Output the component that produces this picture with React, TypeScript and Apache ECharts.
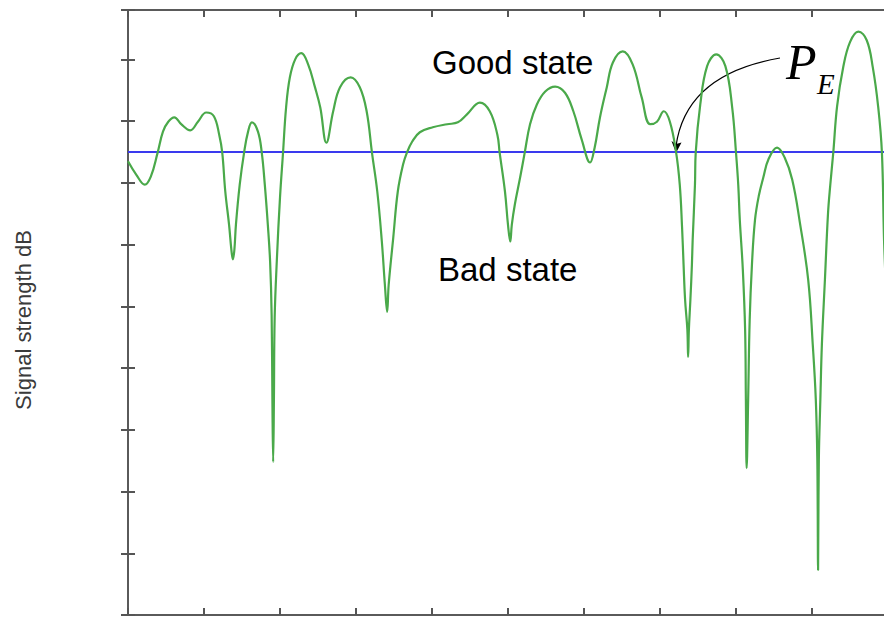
import React, { useEffect, useRef } from "react";
import * as echarts from "echarts";

// Time samples (arbitrary units, 0..100) and the faded signal level in dB
const timeAxis = [
  0, 1.1, 2.2, 3.0, 3.9, 4.6, 5.3, 6.1, 7.0, 8.2, 9.2, 10.3, 11.3, 12.0, 12.4,
  12.8, 13.3, 13.6, 13.8, 14.0, 14.2, 14.7, 15.3, 15.8, 16.3, 17.1, 17.6, 18.0,
  18.4, 18.7, 18.9, 19.0, 19.1, 19.2, 19.3, 19.6, 20.0, 20.4, 20.8, 21.3, 22.0,
  22.8, 23.7, 24.6, 25.3, 26.1, 27.0, 27.9, 29.3, 30.5, 31.4, 32.1, 32.8, 33.4,
  33.8, 34.1, 34.3, 34.9, 35.5, 36.2, 36.7, 37.4, 38.4, 40.1, 42.0, 43.4, 44.6,
  46.3, 47.6, 48.6, 48.9, 49.6, 50.0, 50.3, 50.5, 50.9, 51.6, 52.2, 52.9, 53.8,
  54.9, 56.2, 57.5, 58.6, 59.7, 60.8, 61.4, 62.1, 63.0, 63.8, 65.1, 66.4, 67.6,
  68.7, 69.6, 70.5, 71.3, 72.1, 72.6, 72.9, 73.1, 73.3, 73.6, 73.7, 73.8, 74.0,
  74.2, 74.3, 74.6, 74.7, 75.3, 76.2, 77.4, 78.6, 79.5, 80.0, 80.3, 80.5, 80.9,
  81.2, 81.3, 81.4, 81.6, 81.8, 82.1, 82.5, 83.0, 83.6, 84.3, 85.4, 86.4, 87.4,
  88.4, 89.5, 90.1, 90.5, 90.7, 90.8, 90.9, 91.1, 91.3, 91.7, 92.1, 92.4, 92.8,
  93.3, 94.1, 95.0, 96.1, 97.2, 98.0, 98.7, 99.2, 99.5, 100,
];

const signalDb = [
  -26.5, -28.7, -30.3, -29.0, -25.1, -21.7, -20.1, -19.4, -20.5, -21.5, -20.1,
  -18.6, -19.2, -22.2, -25.1, -31.4, -36.8, -40.8, -42.4, -40.8, -36.8, -30.3,
  -24.9, -21.7, -20.2, -21.7, -25.1, -30.3, -36.8, -42.8, -51.4, -65.1, -75.2,
  -65.1, -51.8, -42.1, -32.4, -25.1, -17.8, -12.9, -10.0, -9.0, -10.8, -14.5,
  -17.8, -23.5, -18.4, -14.5, -12.9, -14.5, -18.4, -25.1, -31.4, -39.5, -46.5,
  -50.9, -46.5, -38.9, -31.4, -27.0, -25.1, -23.3, -21.8, -21.0, -20.5, -20.2,
  -18.9, -17.0, -18.4, -22.2, -25.1, -31.4, -36.8, -39.5, -36.8, -33.5, -29.1,
  -25.1, -20.5, -17.3, -15.2, -14.4, -15.4, -18.4, -23.0, -26.7, -24.3, -19.4,
  -14.5, -10.5, -8.7, -10.8, -16.2, -20.5, -20.1, -18.4, -20.1, -24.9, -30.3,
  -37.1, -43.2, -48.9, -53.8, -58.2, -53.8, -48.9, -43.2, -39.2, -30.3, -25.1,
  -17.3, -11.1, -9.2, -11.1, -17.8, -25.1, -30.4, -36.0, -44.1, -53.8, -65.1,
  -76.2, -65.1, -52.2, -43.2, -36.0, -32.1, -29.1, -26.1, -24.3, -25.9, -29.5,
  -36.4, -45.7, -56.2, -65.1, -74.9, -92.7, -74.9, -65.1, -56.2, -45.7, -35.1,
  -30.4, -25.1, -17.6, -11.3, -7.2, -5.5, -6.9, -11.3, -17.6, -25.1, -40.0,
  -53.8,
];

// Threshold separating the good and bad channel states
const thresholdDb = -25;

const xRange = [0, 100];
const xStep = 10;
const yRange = [-100, -2];
const yStep = 10;

export default function App() {
  const ref = useRef<HTMLDivElement>(null);

  useEffect(() => {
    if (!ref.current) return;
    const chart = echarts.init(ref.current, null, { renderer: "svg" });

    const fading = timeAxis.map((t, i) => [t, signalDb[i]]);
    const threshold = [
      [xRange[0], thresholdDb],
      [xRange[1], thresholdDb],
    ];

    const frameLine = { show: true, lineStyle: { color: "#5a5a5a", width: 2 } };
    const frameTick = {
      show: true,
      inside: true,
      length: 7,
      lineStyle: { color: "#555", width: 2 },
    };
    const xBase = {
      type: "value",
      min: xRange[0],
      max: xRange[1],
      interval: xStep,
      axisLine: frameLine,
      axisTick: frameTick,
      axisLabel: { show: false },
      splitLine: { show: false },
    };
    const yBase = {
      type: "value",
      min: yRange[0],
      max: yRange[1],
      interval: yStep,
      axisLine: frameLine,
      axisTick: frameTick,
      axisLabel: { show: false },
      splitLine: { show: false },
    };

    chart.setOption({
      animation: false,
      backgroundColor: "#ffffff",
      grid: {
        left: 128,
        top: 10,
        width: 760,
        height: 605,
        outerBoundsMode: "none",
      },
      xAxis: [
        { ...xBase, position: "bottom" },
        { ...xBase, position: "top" },
      ],
      yAxis: [
        { ...yBase, position: "left" },
        { ...yBase, position: "right" },
      ],
      series: [
        {
          name: "threshold",
          type: "line",
          data: threshold,
          showSymbol: false,
          lineStyle: { color: "#3a3aee", width: 2 },
          z: 2,
        },
        {
          name: "signal",
          type: "line",
          data: fading,
          showSymbol: false,
          smooth: 0.4,
          lineStyle: { color: "#4aa94a", width: 2.2 },
          z: 3,
        },
      ],
      graphic: [
        {
          type: "text",
          x: 23,
          y: 320,
          rotation: Math.PI / 2,
          style: {
            text: "Signal strength dB",
            fontFamily: "Liberation Sans",
            fontSize: 22,
            fill: "#3a3a3a",
            align: "center",
            verticalAlign: "middle",
          },
        },
        {
          type: "text",
          x: 432,
          y: 62,
          style: {
            text: "Good state",
            fontFamily: "Liberation Sans",
            fontSize: 33,
            fill: "#000",
            align: "left",
            verticalAlign: "middle",
          },
        },
        {
          type: "text",
          x: 438,
          y: 269,
          style: {
            text: "Bad state",
            fontFamily: "Liberation Sans",
            fontSize: 33,
            fill: "#000",
            align: "left",
            verticalAlign: "middle",
          },
        },
        {
          type: "text",
          x: 786,
          y: 62,
          style: {
            text: "P",
            fontFamily: "Liberation Serif",
            fontStyle: "italic",
            fontSize: 50,
            fill: "#000",
            align: "left",
            verticalAlign: "middle",
          },
        },
        {
          type: "text",
          x: 817,
          y: 84,
          style: {
            text: "E",
            fontFamily: "Liberation Serif",
            fontStyle: "italic",
            fontSize: 29,
            fill: "#000",
            align: "left",
            verticalAlign: "middle",
          },
        },
        {
          type: "bezierCurve",
          shape: { x1: 780, y1: 58, cpx1: 686, cpy1: 74, x2: 676, y2: 146 },
          style: { stroke: "#000", lineWidth: 1.2, fill: null },
        },
        {
          type: "polygon",
          shape: {
            points: [
              [676, 153],
              [671.5, 141],
              [676, 144],
              [681.5, 142.5],
            ],
          },
          style: { fill: "#000" },
        },
      ],
    });

    return () => chart.dispose();
  }, []);

  return (
    <div
      ref={ref}
      style={{ position: "fixed", left: 0, top: 0, width: 884, height: 617 }}
    />
  );
}
